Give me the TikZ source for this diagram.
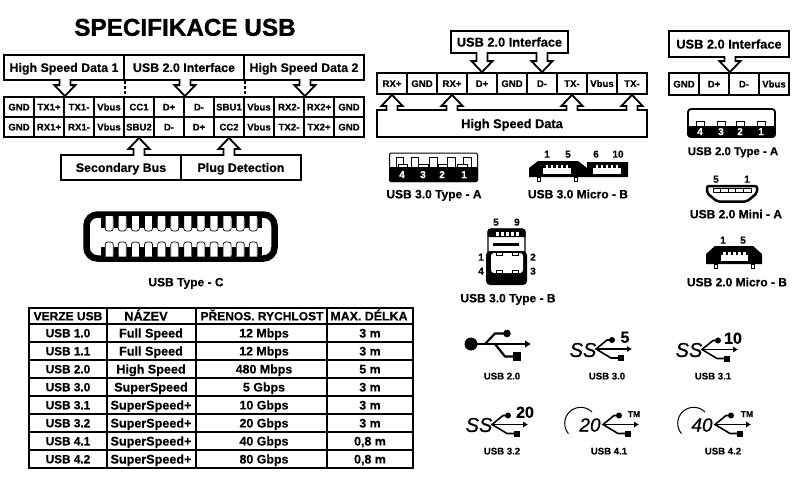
\documentclass[tikz,border=0pt]{standalone}
\usepackage{fontspec}
\setmainfont{Liberation Sans}[BoldFeatures={FakeBold=0.35}]
\newfontfamily\logofont{Liberation Sans}[ItalicFeatures={FakeBold=0.7}]
\newfontfamily\titlefont{Liberation Sans}[BoldFeatures={FakeBold=1.2}]
\usetikzlibrary{arrows.meta,calc}
\newcommand{\bfs}[1]{\fontsize{#1}{#1}\selectfont\bfseries}
\tikzset{
  lbl/.style={font=\bfs{#1}, inner sep=0pt, align=center, text height={0.72*#1pt}, text depth=0pt},
  pincell/.style={draw, lbl=9.6, minimum width=30pt, minimum height=#1},
  pincell/.default=20pt,
  hdrbox/.style={draw, fill=white, lbl=12.4, minimum height=#1},
  hdrbox/.default=25pt,
  caption/.style={lbl=12},
  logocap/.style={lbl=9.6},
  logotext/.style={font=\fontsize{#1}{#1}\selectfont\logofont\itshape, inner sep=0pt},
  digit/.style={lbl=10},
  whitedigit/.style={lbl=10, text=white},
  blocklink/.style={draw, fill=white, to path={
    ($(\tikztostart)!-1.8pt!(\tikztotarget)!5.5pt!90:(\tikztotarget)$) -- ($(\tikztotarget)!11pt!(\tikztostart)!5.5pt!90:(\tikztotarget)$)
    -- ($(\tikztotarget)!11pt!(\tikztostart)!10.5pt!90:(\tikztotarget)$) -- (\tikztotarget)
    -- ($(\tikztotarget)!11pt!(\tikztostart)!10.5pt!-90:(\tikztotarget)$) -- ($(\tikztotarget)!11pt!(\tikztostart)!5.5pt!-90:(\tikztotarget)$)
    -- ($(\tikztostart)!-1.8pt!(\tikztotarget)!5.5pt!-90:(\tikztotarget)$)}},
  contact/.style={draw, fill=white, line width=0.7pt},
  usbfork/.pic={
    \draw[line width=1.6pt, -{Latex[length=5pt,width=6.5pt]}] (0,0) -- (36,0);
    \draw[line width=1.6pt] (16,-9) -- (11,-9) -- (0,0) -- (15,9) -- (25,9);
    \fill (16,-9) circle (3pt);
    \fill (22,6) rectangle (28,12);
  },
  microslot/.pic={
    \fill[white] (0,0) rectangle (#1,6);
    \foreach \t in {1,...,5}
      \fill[white] ({#1/2+5*(\t-3)-1.2},-3) rectangle ({#1/2+5*(\t-3)+1.2},0);
  }
}
\begin{document}
\begin{tikzpicture}[x=1pt, y=-1pt, line width=1.8pt]
  \useasboundingbox (0,0) rectangle (800,480);

  \node[lbl=24.3, font=\fontsize{24.3}{24.3}\selectfont\titlefont\bfseries] (title) at (185,27) {SPECIFIKACE USB};

  % USB-C pinout
  \node[hdrbox, minimum width=120pt] (hsd1) at (64,67.5) {High Speed Data 1};
  \node[hdrbox, minimum width=120pt] (usbc) at (184,67.5) {USB 2.0 Interface};
  \node[hdrbox, minimum width=120pt] (hsd2) at (304,67.5) {High Speed Data 2};
  \foreach \name [count=\i] in {GND,TX1+,TX1-,Vbus,CC1,D+,D-,SBU1,Vbus,RX2-,RX2+,GND}
    \node[pincell] (ca\i) at ({4+30*\i-15},107) {\name};
  \foreach \name [count=\i] in {GND,RX1+,RX1-,Vbus,SBU2,D-,D+,CC2,Vbus,TX2-,TX2+,GND}
    \node[pincell] (cb\i) at ({4+30*\i-15},127) {\name};
  \node[hdrbox, minimum width=120pt] (sbus) at (121,167.5) {Secondary Bus};
  \node[hdrbox, minimum width=120pt] (plug) at (241,167.5) {Plug Detection};
  \draw[blocklink] (ca2.north east |- hsd1.south) to (ca2.north east);
  \draw[blocklink] (ca6.north east |- usbc.south) to (ca6.north east);
  \draw[blocklink] (ca10.north east |- hsd2.south) to (ca10.north east);
  \draw[densely dashed, line width=1.2pt] (ca4.north east |- hsd1.south) -- (ca4.north east);
  \draw[densely dashed, line width=1.2pt] (ca8.north east |- usbc.south) -- (ca8.north east);
  \draw[blocklink] (cb5.south |- sbus.north) to (cb5.south);
  \draw[blocklink] (cb8.south |- plug.north) to (cb8.south);

  % USB-C connector
  \draw[line width=6.5pt, rounded corners=11pt] (86.5,214.5) rectangle (274.5,258.5);
  \foreach \i in {0,...,11} {
    \draw[contact, rounded corners=2.5pt] ({109.2+13.1*\i-4},216) -- ({109.2+13.1*\i-4},231) -- ({109.2+13.1*\i+4},231) -- ({109.2+13.1*\i+4},216);
    \draw[contact, rounded corners=2.5pt] ({109.2+13.1*\i-4},256.5) -- ({109.2+13.1*\i-4},242) -- ({109.2+13.1*\i+4},242) -- ({109.2+13.1*\i+4},256.5);
  }
  \foreach \i in {0,...,12} {
    \fill ({102.7+13.1*\i-2.2},217) rectangle ({102.7+13.1*\i+2.2},228);
    \fill ({102.7+13.1*\i-2.2},247) rectangle ({102.7+13.1*\i+2.2},256);
  }
  \node[caption] (typec) at (186,282) {USB Type - C};

  % version table
  \draw[line width=2.2pt] (29,308) rectangle (413,468);
  \foreach \x in {107,196,327} \draw (\x,308) -- (\x,468);
  \foreach \y in {324,342,360,378,396,414,432,450} \draw (29,\y) -- (413,\y);
  \node[lbl=12] (hver) at (68,316) {VERZE USB};
  \node[lbl=12.8] (hnam) at (146,316) {NÁZEV};
  \node[lbl=12] (hrat) at (262,316) {PŘENOS. RYCHLOST};
  \node[lbl=12.4] (hlen) at (369,316) {MAX. DÉLKA};
  \foreach \ver/\nam/\rat/\len [count=\i] in {1.0/Full Speed/12 Mbps/3 m, 1.1/Full Speed/12 Mbps/3 m,
      2.0/High Speed/480 Mbps/5 m, 3.0/SuperSpeed/5 Gbps/3 m, 3.1/SuperSpeed+/10 Gbps/3 m,
      3.2/SuperSpeed+/20 Gbps/3 m, 4.1/SuperSpeed+/40 Gbps/{0,8 m}, 4.2/SuperSpeed+/80 Gbps/{0,8 m}} {
    \node[lbl=11.8] (ver\i) at (68,{333+18*(\i-1)}) {USB \ver};
    \node[lbl=12.6] (nam\i) at (151,{333+18*(\i-1)}) {\nam};
    \node[lbl=12.4] (rat\i) at (264,{333+18*(\i-1)}) {\rat};
    \node[lbl=12.4] (len\i) at (370,{333+18*(\i-1)}) {\len};
  }

  % USB 3.0 pinout
  \node[hdrbox=22pt, minimum width=117pt, lbl=12.8] (ifa) at (509.5,42) {USB 2.0 Interface};
  \foreach \name [count=\i] in {RX+,GND,RX+,D+,GND,D-,TX-,Vbus,TX-}
    \node[pincell=21pt] (ra\i) at ({377+30*\i-15},83.5) {\name};
  \node[hdrbox=27pt, minimum width=270pt, lbl=12.8] (hsd) at (512,123.5) {High Speed Data};
  \draw[blocklink] (ra4.north |- ifa.south) to (ra4.north);
  \draw[blocklink] (ra6.north |- ifa.south) to (ra6.north);
  \draw[blocklink] (ra1.south |- hsd.north) to (ra1.south);
  \draw[blocklink] (ra3.south |- hsd.north) to (ra3.south);
  \draw[blocklink] (ra7.south |- hsd.north) to (ra7.south);
  \draw[blocklink] (ra9.south |- hsd.north) to (ra9.south);

  % USB 2.0 pinout
  \node[hdrbox=26pt, minimum width=120pt, lbl=12.8] (ifb) at (729,44) {USB 2.0 Interface};
  \foreach \name [count=\i] in {GND,D+,D-,Vbus}
    \node[pincell=22pt] (sa\i) at ({669+30*\i-15},84) {\name};
  \draw[blocklink] (sa2.north east |- ifb.south) to (sa2.north east);

  % USB 2.0 Type-A
  \draw[rounded corners=3pt] (688,109) rectangle (775,137);
  \fill (687.3,126) [rounded corners=3pt] -- (687.3,137.7) -- (775.7,137.7) [sharp corners] -- (775.7,126) -- cycle;
  \foreach \x in {700,721,740,761} \draw[contact] (\x-4,121) rectangle (\x+4,126);
  \foreach \n/\x in {4/700,3/721,2/740,1/761} \node[whitedigit] (tan\n) at (\x,131.5) {\n};
  \node[lbl=11.4] (c2a) at (733,151) {USB 2.0 Type - A};

  % USB 2.0 Mini-A
  \draw[line width=2.5pt, rounded corners=2pt] (707,186) -- (707,193) -- (717,201.5) -- (747,201.5) -- (757,193) -- (757,186) -- cycle;
  \foreach \i in {0,...,4} \draw[contact] ({713+7.6*\i},188) rectangle ({713+7.6*\i+7.6},192);
  \node[digit] (mini5) at (716,179) {5};
  \node[digit] (mini1) at (747,179) {1};
  \node[caption] (c2mini) at (736,214) {USB 2.0 Mini - A};

  % USB 2.0 Micro-B
  \fill (715,246) -- (753,246) -- (762,254) -- (762,264) -- (706,264) -- (706,254) -- cycle;
  \draw[contact] (714.5,264) rectangle (717.5,268);
  \draw[contact] (751.5,264) rectangle (754.5,268);
  \pic at (721,255) {microslot=27};
  \node[digit] (mic1) at (723,240) {1};
  \node[digit] (mic5) at (743,240) {5};
  \node[caption] (c2mic) at (737,282) {USB 2.0 Micro - B};

  % USB 3.0 Type-A
  \draw[line width=1pt, rounded corners=2pt] (389.5,153) rectangle (477.5,181.5);
  \fill (389,167) [rounded corners=2pt] -- (389,182) -- (478,182) [sharp corners] -- (478,167) -- cycle;
  \foreach \a/\b in {396/403,411/418,429/437,447/455,463/471} \draw[contact] (\a,157) rectangle (\b,167);
  \foreach \a/\b in {398/407,418/428,438/447,457/467} \draw[contact] (\a,164) rectangle (\b,167);
  \foreach \n/\x in {4/402,3/423,2/442,1/464} \node[whitedigit] (t3n\n) at (\x,174.5) {\n};
  \node[caption] (c3a) at (434,194) {USB 3.0 Type - A};

  % USB 3.0 Micro-B
  \fill (538,161) -- (578,161) -- (587,168) -- (587,162) -- (628,162) -- (628,177) -- (529,177) -- (529,168) -- cycle;
  \draw[contact] (537.5,177) rectangle (540.5,181);
  \draw[contact] (574.5,177) rectangle (577.5,181);
  \pic at (543,168) {microslot=28};
  \pic at (593,168) {microslot=28};
  \node[digit] (m3n1) at (547,154) {1};
  \node[digit] (m3n5) at (568,154) {5};
  \node[digit] (m3n6) at (596,154) {6};
  \node[digit] (m3n10) at (618,154) {10};
  \node[caption] (c3m) at (578,194) {USB 3.0 Micro - B};

  % USB 3.0 Type-B
  \draw[line width=1.2pt, rounded corners=3pt] (488,229) rectangle (525,255);
  \fill (487.5,237) [rounded corners=3pt] -- (487.5,228.5) -- (525.5,228.5) [sharp corners] -- (525.5,237) -- cycle;
  \foreach \x in {497,502,507,512,517} \fill[white] (\x-1.5,232) rectangle (\x+1.5,236);
  \fill (493,243) rectangle (519,245.5);
  \fill[rounded corners=4pt] (486,251) rectangle (527,285);
  \fill[white, rounded corners=3pt] (491,253) rectangle (523,273);
  \foreach \x in {499,515} {
    \draw[contact] (\x-3,252.5) rectangle (\x+3,255.5);
    \draw[contact] (\x-3,270.5) rectangle (\x+3,273.5);
  }
  \node[digit] (b3n5) at (496,222) {5};
  \node[digit] (b3n9) at (517,222) {9};
  \node[digit] (b3n1) at (481,257) {1};
  \node[digit] (b3n2) at (533,257) {2};
  \node[digit] (b3n4) at (481,271) {4};
  \node[digit] (b3n3) at (533,271) {3};
  \node[caption] (c3b) at (508,298) {USB 3.0 Type - B};

  % logos
  \fill (471,344) circle (6.5pt);
  \draw[line width=2.2pt, -{Latex[length=6pt,width=8pt]}] (471,344) -- (531,344);
  \draw[line width=2.2pt] (507,333.5) -- (495,333.5) -- (485,344);
  \draw[line width=2.2pt] (495,344) -- (505,356.5) -- (515,356.5);
  \fill (507,333.5) circle (3.8pt);
  \fill (513,352) rectangle (521,361);
  \node[logocap] (l20) at (502,376) {USB 2.0};

  \node[logotext=20] (ss30) at (583,350) {SS};
  \pic at (596,349) {usbfork};
  \node[lbl=16] (n5) at (625,337) {5};
  \node[logocap] (l30) at (607,376) {USB 3.0};

  \node[logotext=20] (ss31) at (689,350) {SS};
  \pic at (702,349.5) {usbfork};
  \node[lbl=16] (n10) at (733,338) {10};
  \node[logocap] (l31) at (713,376) {USB 3.1};

  \node[logotext=20] (ss32) at (479,425) {SS};
  \pic at (492,424.5) {usbfork};
  \node[lbl=16] (n20) at (525,412) {20};
  \node[logocap] (l32) at (502,451) {USB 3.2};

  \draw[line width=1pt] (592,412) arc[start angle=45, end angle=220, radius=16pt];
  \node[logotext=19] (c20) at (590,425) {20};
  \pic at (603,424.5) {usbfork};
  \node[lbl=8.5] (tm20) at (634,414) {TM};
  \node[logocap] (l41) at (609,451) {USB 4.1};

  \draw[line width=1pt] (705,412) arc[start angle=45, end angle=220, radius=16pt];
  \node[logotext=19] (c40) at (702,425) {40};
  \pic at (715,424.5) {usbfork};
  \node[lbl=8.5] (tm40) at (747,414) {TM};
  \node[logocap] (l42) at (723,451) {USB 4.2};
\end{tikzpicture}
\end{document}
